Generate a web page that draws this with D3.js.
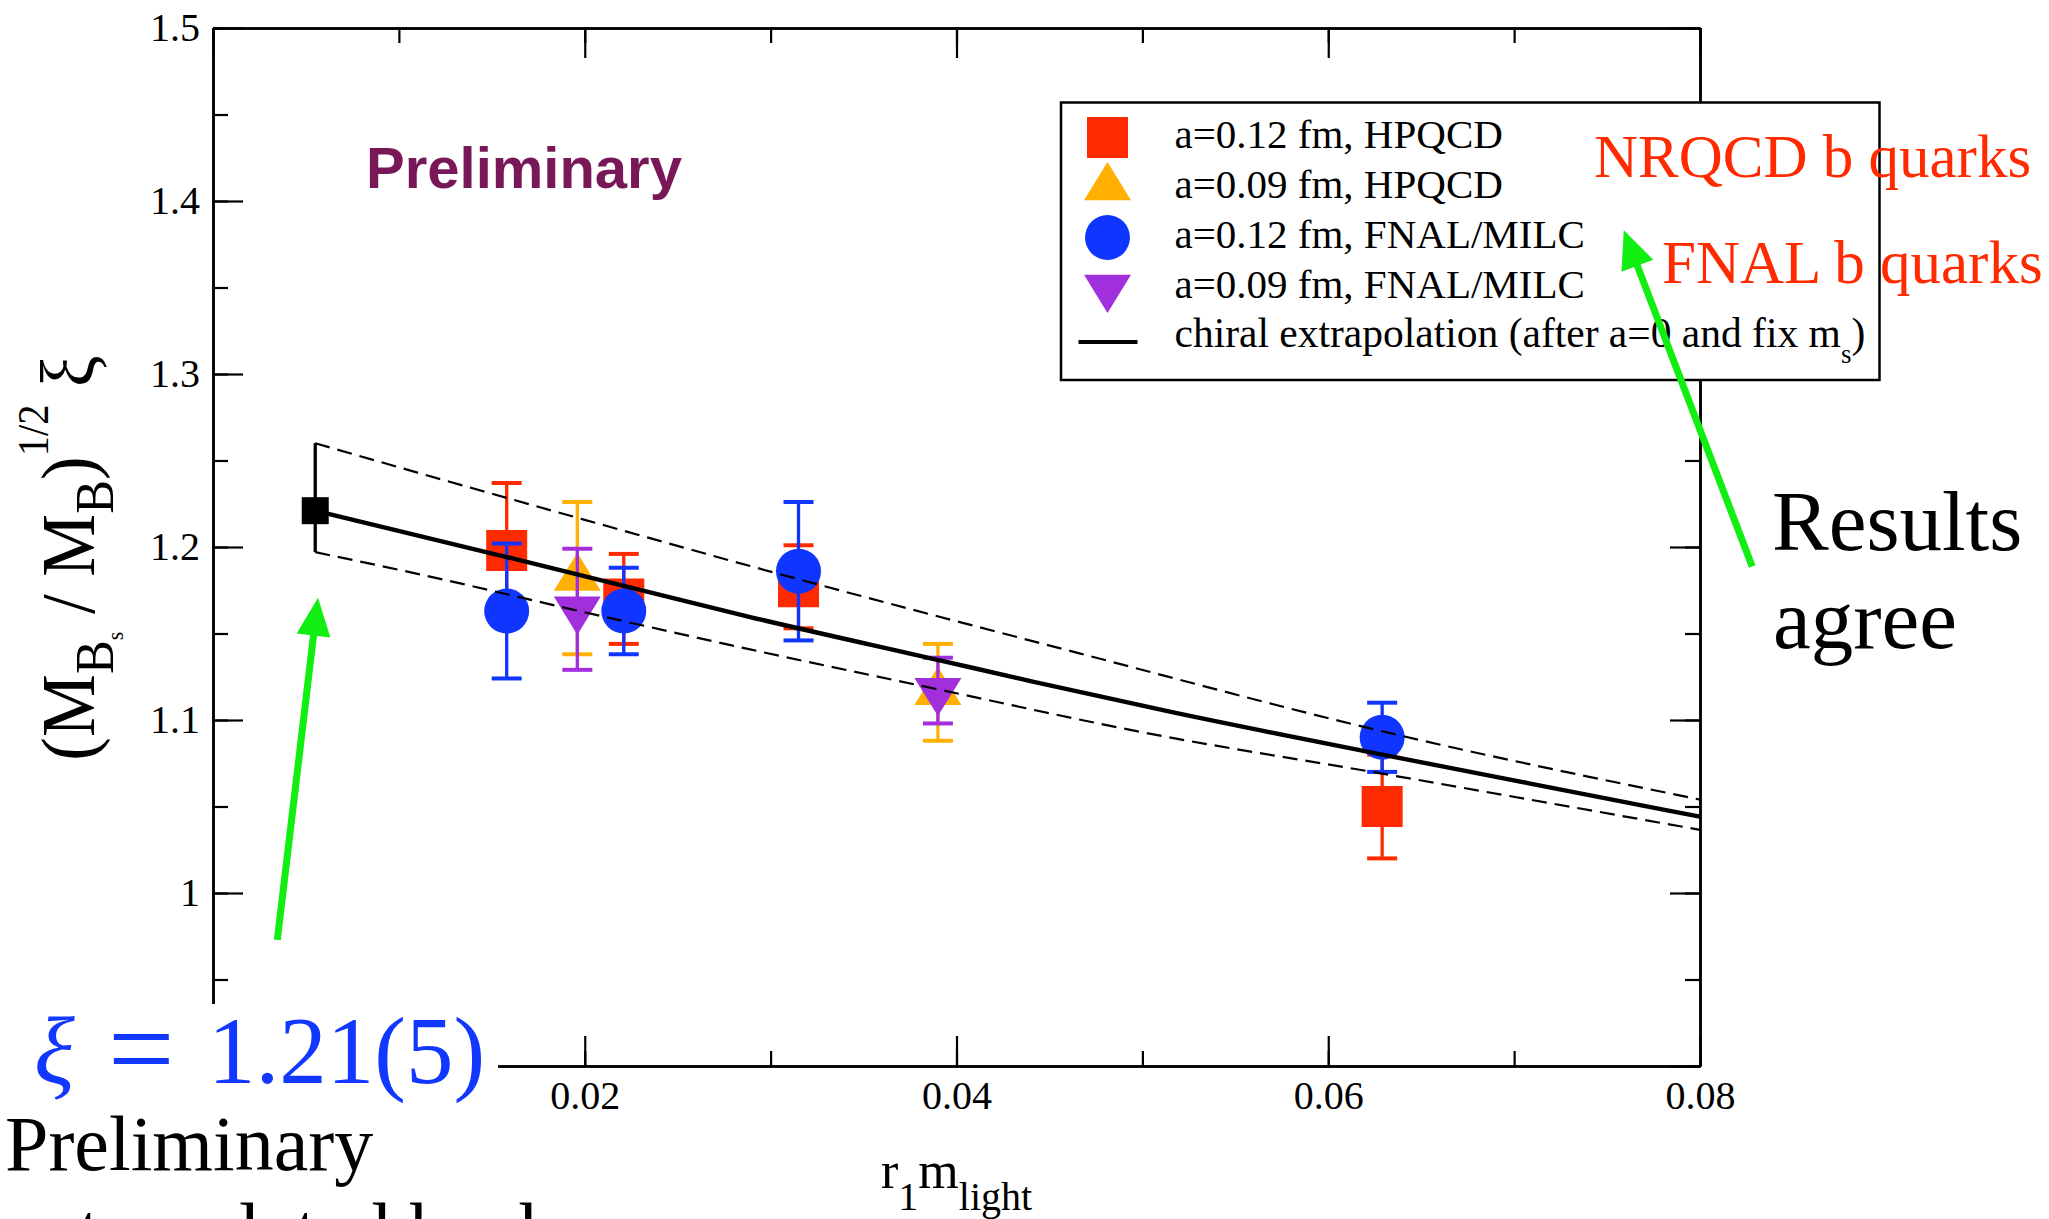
<!DOCTYPE html>
<html>
<head>
<meta charset="utf-8">
<script src="https://cdn.jsdelivr.net/npm/d3@7"></script>
<style>
  body { margin: 0; background: #fff; }
  svg { display: block; }
  text { font-family: "Liberation Serif", "Times New Roman", serif; }
</style>
</head>
<body>
<div id="chart"></div>
<script>
// ---- data ----
// a=0.12 fm, HPQCD (red squares)
const xHP12 = [0.0158, 0.0221, 0.0315, 0.0629];
const yHP12 = [1.198, 1.170, 1.177, 1.050];
const eHP12 = [0.039, 0.026, 0.024, 0.030];
// a=0.09 fm, HPQCD (orange triangles)
const xHP09 = [0.0196, 0.0390];
const yHP09 = [1.182, 1.116];
const eHP09 = [0.044, 0.028];
// a=0.12 fm, FNAL/MILC (blue circles)
const xFM12 = [0.0158, 0.0221, 0.0315, 0.0629];
const yFM12 = [1.163, 1.163, 1.186, 1.090];
const eFM12 = [0.039, 0.025, 0.040, 0.020];
// a=0.09 fm, FNAL/MILC (purple down triangles)
const xFM09 = [0.0196, 0.0390];
const yFM09 = [1.164, 1.117];
const eFM09 = [0.035, 0.019];

// extrapolated value (black square) with its band ends
const xXi = [0.0055];
const yXi = [1.221];
const loXi = [1.197];
const hiXi = [1.260];

// chiral extrapolation curve and error band
const fitX = [0.0055, 0.0158, 0.0221, 0.0289, 0.0391, 0.0441, 0.0516, 0.0629, 0.0708, 0.0800];
const fitY = [1.221, 1.1942, 1.1775, 1.1595, 1.1345, 1.1222, 1.1045, 1.0800, 1.0634, 1.0441];
const upX = [0.0055, 0.0110, 0.0199, 0.0289, 0.0468, 0.0629, 0.0800];
const upY = [1.260, 1.243, 1.216, 1.189, 1.138, 1.0935, 1.054];
const loX = [0.0055, 0.0110, 0.0199, 0.0289, 0.0391, 0.0502, 0.0629, 0.0800];
const loY = [1.197, 1.1845, 1.1625, 1.1408, 1.1175, 1.0925, 1.069, 1.0365];

const legendLabels = ["a=0.12 fm, HPQCD", "a=0.09 fm, HPQCD", "a=0.12 fm, FNAL/MILC", "a=0.09 fm, FNAL/MILC"];
const xTicksMajor = [0, 0.02, 0.04, 0.06, 0.08];
const xTicksMinor = [0, 0.01, 0.02, 0.03, 0.04, 0.05, 0.06, 0.07, 0.08];
const yTicksMajor = [0.9, 1.0, 1.1, 1.2, 1.3, 1.4, 1.5];
const yTicksMinor = [0.9, 0.95, 1.0, 1.05, 1.1, 1.15, 1.2, 1.25, 1.3, 1.35, 1.4, 1.45, 1.5];

// ---- set up ----
const width = 2049;
const height = 1219;
const plot = { left: 213, right: 1700, top: 28, bottom: 1066 };

const svg = d3.select("#chart")
    .append("svg")
    .attr("width", width)
    .attr("height", height);

svg.append("rect").attr("width", width).attr("height", height).attr("fill", "#fff");

const x = d3.scaleLinear().domain([0, 0.08]).range([plot.left, plot.right]);
const y = d3.scaleLinear().domain([0.9, 1.5]).range([plot.bottom, plot.top]);

// labels at the lower-left corner sit under the result box, so leave them empty
const fmt = d3.format("~g");
const xFmt = d => (d === 0 ? "" : fmt(d));
const yFmt = d => (d === 0.9 ? "" : fmt(d));

// ---- axes (ticks point inward on all four sides) ----
function styleAxis(g) {
    g.selectAll("path.domain").attr("stroke", "#000").attr("stroke-width", 2.5);
    g.selectAll(".tick line").attr("stroke", "#000").attr("stroke-width", 2.2);
    g.selectAll(".tick text")
        .style("font-family", "'Liberation Serif', serif")
        .style("font-size", "40px")
        .attr("fill", "#000");
}

svg.append("g").attr("transform", `translate(0,${plot.bottom})`)
    .call(d3.axisBottom(x).tickValues(xTicksMinor).tickSize(-15).tickSizeOuter(0).tickFormat(""))
    .call(styleAxis);
svg.append("g").attr("transform", `translate(0,${plot.bottom})`)
    .call(d3.axisBottom(x).tickValues(xTicksMajor).tickSize(-30).tickSizeOuter(0)
        .tickPadding(15).tickFormat(xFmt))
    .call(styleAxis);
svg.append("g").attr("transform", `translate(0,${plot.top})`)
    .call(d3.axisTop(x).tickValues(xTicksMinor).tickSize(-15).tickSizeOuter(0).tickFormat(""))
    .call(styleAxis);
svg.append("g").attr("transform", `translate(0,${plot.top})`)
    .call(d3.axisTop(x).tickValues(xTicksMajor).tickSize(-30).tickSizeOuter(0).tickFormat(""))
    .call(styleAxis);

svg.append("g").attr("transform", `translate(${plot.left},0)`)
    .call(d3.axisLeft(y).tickValues(yTicksMinor).tickSize(-15).tickSizeOuter(0).tickFormat(""))
    .call(styleAxis);
svg.append("g").attr("transform", `translate(${plot.left},0)`)
    .call(d3.axisLeft(y).tickValues(yTicksMajor).tickSize(-30).tickSizeOuter(0)
        .tickPadding(13).tickFormat(yFmt))
    .call(styleAxis);
svg.append("g").attr("transform", `translate(${plot.right},0)`)
    .call(d3.axisRight(y).tickValues(yTicksMinor).tickSize(-15).tickSizeOuter(0).tickFormat(""))
    .call(styleAxis);
svg.append("g").attr("transform", `translate(${plot.right},0)`)
    .call(d3.axisRight(y).tickValues(yTicksMajor).tickSize(-30).tickSizeOuter(0).tickFormat(""))
    .call(styleAxis);

// ---- symbols ----
const shapes = {
    square: "M-20.5,-20.5H20.5V20.5H-20.5Z",
    circle: d3.symbol(d3.symbolCircle, Math.PI * 22.5 * 22.5)(),
    triUp: "M0,-25.5L23.5,12.7L-23.5,12.7Z",
    triDown: "M0,25.5L23.5,-12.7L-23.5,-12.7Z"
};

const series = [
    { name: legendLabels[0], xs: xHP12, ys: yHP12, es: eHP12, color: "#ff2a00", shape: "square" },
    { name: legendLabels[1], xs: xHP09, ys: yHP09, es: eHP09, color: "#ffb000", shape: "triUp" },
    { name: legendLabels[2], xs: xFM12, ys: yFM12, es: eFM12, color: "#1035ff", shape: "circle" },
    { name: legendLabels[3], xs: xFM09, ys: yFM09, es: eFM09, color: "#a22fdc", shape: "triDown" }
];

const capHalf = 15;

series.forEach(s => {
    const pts = s.xs.map((v, i) => ({ x: v, y: s.ys[i], e: s.es[i] }));
    const g = svg.append("g");
    const eb = g.selectAll("g.err").data(pts).enter().append("g")
        .attr("stroke", s.color);
    eb.append("line")
        .attr("x1", d => x(d.x)).attr("x2", d => x(d.x))
        .attr("y1", d => y(d.y - d.e)).attr("y2", d => y(d.y + d.e))
        .attr("stroke-width", 3.3);
    eb.append("line")
        .attr("x1", d => x(d.x) - capHalf).attr("x2", d => x(d.x) + capHalf)
        .attr("y1", d => y(d.y + d.e)).attr("y2", d => y(d.y + d.e))
        .attr("stroke-width", 4);
    eb.append("line")
        .attr("x1", d => x(d.x) - capHalf).attr("x2", d => x(d.x) + capHalf)
        .attr("y1", d => y(d.y - d.e)).attr("y2", d => y(d.y - d.e))
        .attr("stroke-width", 4);
    g.selectAll("path.sym").data(pts).enter().append("path")
        .attr("d", shapes[s.shape])
        .attr("transform", d => `translate(${x(d.x)},${y(d.y)})`)
        .attr("fill", s.color);
});

// extrapolated point with its error (no caps)
const xiPts = xXi.map((v, i) => ({ x: v, y: yXi[i], lo: loXi[i], hi: hiXi[i] }));
svg.selectAll("line.xi").data(xiPts).enter().append("line")
    .attr("x1", d => x(d.x)).attr("x2", d => x(d.x))
    .attr("y1", d => y(d.lo)).attr("y2", d => y(d.hi))
    .attr("stroke", "#000").attr("stroke-width", 3.3);
svg.selectAll("rect.xi").data(xiPts).enter().append("rect")
    .attr("x", d => x(d.x) - 13.5).attr("y", d => y(d.y) - 13.5)
    .attr("width", 27).attr("height", 27).attr("fill", "#000");

// ---- curves ----
const line = d3.line().x(d => x(d[0])).y(d => y(d[1])).curve(d3.curveMonotoneX);
svg.append("path").datum(d3.zip(upX, upY)).attr("d", line)
    .attr("fill", "none").attr("stroke", "#000").attr("stroke-width", 2.2).attr("stroke-dasharray", "15,8");
svg.append("path").datum(d3.zip(loX, loY)).attr("d", line)
    .attr("fill", "none").attr("stroke", "#000").attr("stroke-width", 2.2).attr("stroke-dasharray", "15,8");
svg.append("path").datum(d3.zip(fitX, fitY)).attr("d", line)
    .attr("fill", "none").attr("stroke", "#000").attr("stroke-width", 4.4);

// ---- legend ----
const legend = svg.append("g");
legend.append("rect")
    .attr("x", 1061).attr("y", 102.5).attr("width", 818.5).attr("height", 277.5)
    .attr("fill", "#fff").attr("stroke", "#000").attr("stroke-width", 2.5);
series.forEach((s, i) => {
    const cy = 137.5 + 50 * i;
    legend.append("path").attr("d", shapes[s.shape])
        .attr("transform", `translate(1107.5,${cy})`).attr("fill", s.color);
    legend.append("text").attr("x", 1174.5).attr("y", cy + 10.5)
        .style("font-size", "41px").text(s.name);
});
legend.append("line").attr("x1", 1078.5).attr("x2", 1137.5).attr("y1", 342).attr("y2", 342)
    .attr("stroke", "#000").attr("stroke-width", 4.2);
const l5 = legend.append("text").attr("x", 1174.5).attr("y", 347).style("font-size", "41.5px");
l5.append("tspan").text("chiral extrapolation (after a=0 and fix m");
l5.append("tspan").attr("dy", 16).style("font-size", "27px").text("s");
l5.append("tspan").attr("dy", -16).text(")");

// ---- axis titles ----
const xl = svg.append("text").attr("x", 881).attr("y", 1188).style("font-size", "52px");
xl.append("tspan").text("r");
xl.append("tspan").attr("dy", 22).style("font-size", "40px").text("1");
xl.append("tspan").attr("dy", -22).text("m");
xl.append("tspan").attr("dy", 22).style("font-size", "40px").text("light");

const yl = svg.append("text")
    .attr("transform", "translate(94,558) rotate(-90) scale(0.92,1)")
    .attr("text-anchor", "middle")
    .style("font-size", "77px");
yl.append("tspan").text("(M");
yl.append("tspan").attr("dy", 19).style("font-size", "55px").text("B");
yl.append("tspan").attr("dy", 10).style("font-size", "24px").text("s");
yl.append("tspan").attr("dy", -29).text(" / M");
yl.append("tspan").attr("dy", 19).style("font-size", "55px").text("B");
yl.append("tspan").attr("dy", -19).text(")");
yl.append("tspan").attr("dy", -46).style("font-size", "44px").text("1/2");
yl.append("tspan").attr("dy", 46).text(" ξ");

// ---- annotations ----
svg.append("text").attr("x", 366).attr("y", 188)
    .style("font-family", "'Liberation Sans', Arial, sans-serif")
    .style("font-weight", "bold").style("font-size", "58px")
    .attr("fill", "#781858").text("Preliminary");

svg.append("text").attr("x", 1594).attr("y", 177).style("font-size", "61px")
    .attr("fill", "#ff2a00").text("NRQCD b quarks");
svg.append("text").attr("x", 1662).attr("y", 283).style("font-size", "61px")
    .attr("fill", "#ff2a00").text("FNAL b quarks");

svg.append("text").attr("x", 1772).attr("y", 550).style("font-size", "85px").text("Results");
svg.append("text").attr("x", 1773).attr("y", 648).style("font-size", "85px").text("agree");

// result box in the lower left (covers the axis corner)
svg.append("rect").attr("x", 0).attr("y", 1004).attr("width", 498).attr("height", 108).attr("fill", "#fff");
const blue = "#1238ff";
const xi = svg.append("text").attr("y", 1083).style("font-size", "95px").attr("fill", blue);
xi.append("tspan").attr("x", 34).style("font-style", "italic").text("ξ");
xi.append("tspan").attr("x", 108).style("font-size", "118px").attr("dy", 6).text("=");
xi.append("tspan").attr("x", 208).attr("dy", -6).text("1.21(5)");

svg.append("text").attr("x", 5).attr("y", 1170).style("font-size", "78px").text("Preliminary");
svg.append("text").attr("x", 5).attr("y", 1257).style("font-size", "78px").text("extrapolated back");

// green arrows, end points in data units
const arrows = [
    { x1: 0.00346, y1: 0.9729, x2: 0.00565, y2: 1.1707 },
    { x1: 0.08281, y1: 1.1887, x2: 0.0759, y2: 1.3831 }
];
const green = "#11ee11";
arrows.forEach(a => {
    const tx = x(a.x1), ty = y(a.y1), hx = x(a.x2), hy = y(a.y2);
    const len = Math.hypot(hx - tx, hy - ty);
    const ux = (hx - tx) / len, uy = (hy - ty) / len;
    const headLen = 38, headHalf = 17;
    const bx = hx - ux * headLen, by = hy - uy * headLen;
    svg.append("line").attr("x1", tx).attr("y1", ty).attr("x2", bx + ux * 4).attr("y2", by + uy * 4)
        .attr("stroke", green).attr("stroke-width", 7);
    svg.append("path")
        .attr("d", `M${hx},${hy}L${bx - uy * headHalf},${by + ux * headHalf}L${bx + uy * headHalf},${by - ux * headHalf}Z`)
        .attr("fill", green);
});
</script>
</body>
</html>
